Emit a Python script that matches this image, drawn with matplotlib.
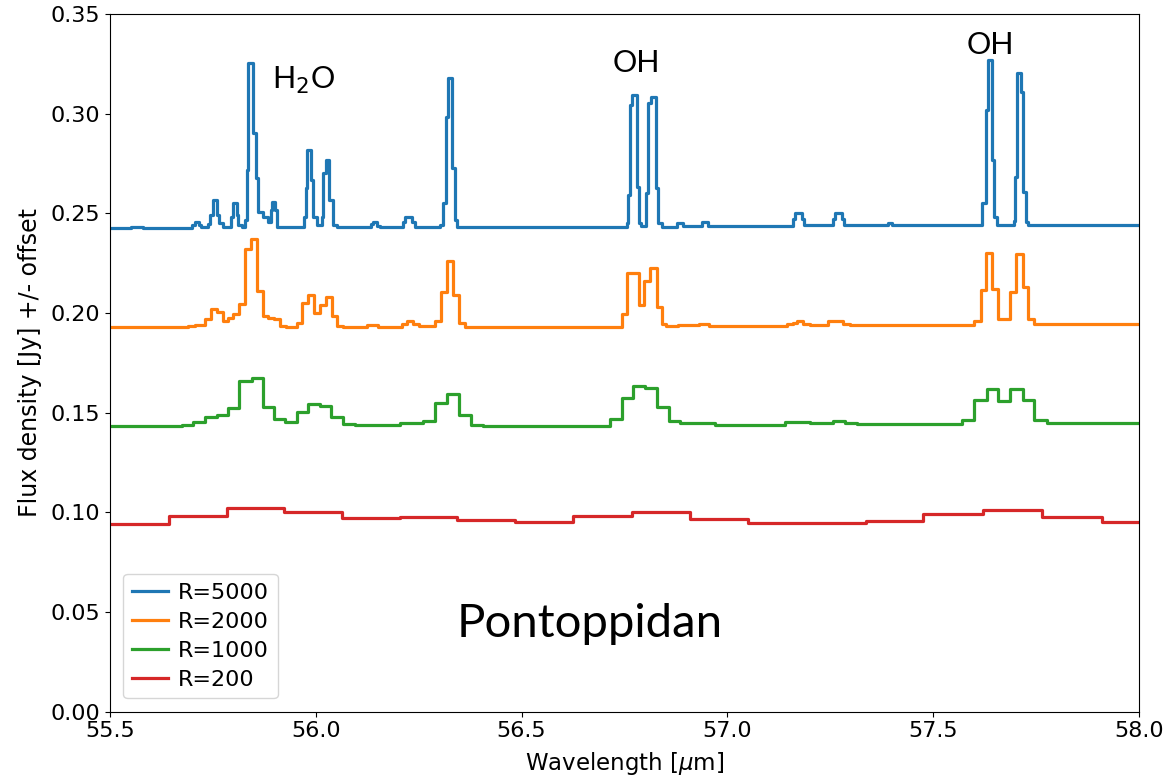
import matplotlib
matplotlib.use("Agg")
import matplotlib.pyplot as plt
import numpy as np

# step spectra at different resolving powers (bin edges + level in each bin)
blue_edges = [55.5, 55.550, 55.580, 55.700, 55.706, 55.716, 55.722, 55.739, 55.743, 55.750,
              55.761, 55.766, 55.775, 55.794, 55.798, 55.808, 55.812, 55.820, 55.828, 55.832,
              55.835, 55.847, 55.855, 55.860, 55.872, 55.885, 55.890, 55.893, 55.900, 55.905,
              55.971, 55.975, 55.979, 55.988, 55.994, 56.002, 56.014, 56.018, 56.024, 56.033,
              56.043, 56.051, 56.133, 56.138, 56.148, 56.155, 56.212, 56.217, 56.233, 56.240,
              56.302, 56.310, 56.316, 56.322, 56.330, 56.337, 56.344, 56.755, 56.758, 56.763,
              56.769, 56.780, 56.784, 56.789, 56.802, 56.808, 56.814, 56.826, 56.831, 56.840,
              56.877, 56.893, 56.938, 56.954, 57.160, 57.164, 57.180, 57.185, 57.257, 57.261,
              57.278, 57.283, 57.391, 57.399, 57.618, 57.628, 57.633, 57.642, 57.648, 57.656,
              57.696, 57.698, 57.703, 57.713, 57.719, 57.725, 57.731, 58.0]
blue_vals = [0.2427, 0.2432, 0.2427, 0.2440, 0.2455, 0.2440, 0.2430, 0.2445, 0.2491, 0.2566,
             0.2491, 0.2450, 0.2430, 0.2480, 0.2550, 0.2491, 0.2440, 0.2432, 0.2466, 0.2717,
             0.3255, 0.2901, 0.2675, 0.2508, 0.2483, 0.2458, 0.2516, 0.2558, 0.2516, 0.2432,
             0.2482, 0.2625, 0.2817, 0.2667, 0.2482, 0.2440, 0.2482, 0.2700, 0.2767, 0.2566,
             0.2440, 0.2430, 0.2445, 0.2454, 0.2437, 0.2430, 0.2455, 0.2482, 0.2455, 0.2432,
             0.2440, 0.2550, 0.2984, 0.3176, 0.2725, 0.2466, 0.2432, 0.2449, 0.2591, 0.3043,
             0.3093, 0.2633, 0.2449, 0.2437, 0.2600, 0.3051, 0.3084, 0.2625, 0.2449, 0.2432,
             0.2452, 0.2434, 0.2457, 0.2436, 0.2470, 0.2500, 0.2470, 0.2440, 0.2470, 0.2500,
             0.2470, 0.2441, 0.2450, 0.2441, 0.2550, 0.3018, 0.3268, 0.2767, 0.2482, 0.2441,
             0.2461, 0.2683, 0.3202, 0.3109, 0.2608, 0.2458, 0.2441]

orange_edges = [55.5, 55.690, 55.707, 55.731, 55.745, 55.761, 55.774, 55.786, 55.800, 55.814,
                55.828, 55.843, 55.856, 55.871, 55.885, 55.898, 55.912, 55.927, 55.954, 55.967,
                55.982, 55.996, 56.010, 56.024, 56.039, 56.052, 56.067, 56.124, 56.150, 56.209,
                56.221, 56.237, 56.251, 56.290, 56.305, 56.318, 56.334, 56.349, 56.362, 56.743,
                56.755, 56.786, 56.798, 56.812, 56.828, 56.840, 56.852, 56.880, 56.930, 56.955,
                57.144, 57.160, 57.168, 57.184, 57.201, 57.245, 57.282, 57.297, 57.600, 57.615,
                57.628, 57.642, 57.658, 57.687, 57.700, 57.717, 57.731, 57.746, 58.0]
orange_vals = [0.1928, 0.1933, 0.1939, 0.1968, 0.2018, 0.2006, 0.1959, 0.1973, 0.1993, 0.2043,
               0.2319, 0.2369, 0.2110, 0.1986, 0.1976, 0.1971, 0.1934, 0.1928, 0.1951, 0.2051,
               0.2090, 0.2001, 0.2040, 0.2078, 0.1985, 0.1936, 0.1928, 0.1941, 0.1930, 0.1945,
               0.1962, 0.1945, 0.1932, 0.1959, 0.2105, 0.2262, 0.2090, 0.1951, 0.1930, 0.1995,
               0.2199, 0.2040, 0.2160, 0.2227, 0.2028, 0.1944, 0.1932, 0.1938, 0.1945, 0.1932,
               0.1945, 0.1951, 0.1962, 0.1944, 0.1940, 0.1962, 0.1944, 0.1938, 0.1962, 0.2115,
               0.2299, 0.2118, 0.1968, 0.2106, 0.2295, 0.2128, 0.1968, 0.1944]

green_edges = [55.5, 55.674, 55.702, 55.731, 55.759, 55.786, 55.814, 55.844, 55.871, 55.898,
               55.925, 55.954, 55.982, 56.010, 56.037, 56.067, 56.095, 56.205, 56.261, 56.290,
               56.318, 56.349, 56.376, 56.405, 56.715, 56.743, 56.771, 56.800, 56.828, 56.858,
               56.885, 56.970, 57.140, 57.201, 57.256, 57.286, 57.314, 57.569, 57.600, 57.630,
               57.658, 57.687, 57.717, 57.746, 57.776, 58.0]
green_vals = [0.1432, 0.1436, 0.1451, 0.1480, 0.1488, 0.1521, 0.1660, 0.1675, 0.1530, 0.1466,
              0.1454, 0.1501, 0.1542, 0.1533, 0.1480, 0.1443, 0.1438, 0.1449, 0.1458, 0.1550,
              0.1592, 0.1488, 0.1438, 0.1433, 0.1466, 0.1575, 0.1635, 0.1625, 0.1527, 0.1456,
              0.1446, 0.1439, 0.1454, 0.1446, 0.1456, 0.1450, 0.1443, 0.1463, 0.1563, 0.1618,
              0.1558, 0.1618, 0.1563, 0.1463, 0.1446]

red_edges = [55.5, 55.644, 55.784, 55.923, 56.063, 56.205, 56.344, 56.485, 56.626, 56.767,
             56.909, 57.051, 57.194, 57.336, 57.476, 57.622, 57.764, 57.909, 58.0]
red_vals = [0.0940, 0.0981, 0.1020, 0.1000, 0.0970, 0.0975, 0.0963, 0.0951, 0.0984, 0.1000,
            0.0965, 0.0946, 0.0945, 0.0955, 0.0990, 0.1013, 0.0975, 0.0953]

series = [("R=5000", blue_edges, blue_vals, "#1f77b4"),
          ("R=2000", orange_edges, orange_vals, "#ff7f0e"),
          ("R=1000", green_edges, green_vals, "#2ca02c"),
          ("R=200", red_edges, red_vals, "#d62728")]

labels = [("H$_2$O", 55.969, 0.3168), ("OH", 56.780, 0.3253), ("OH", 57.638, 0.3344)]

fig = plt.figure(figsize=(11.75, 7.81), dpi=100)
ax = fig.add_axes([0.0936, 0.0887, 0.8758, 0.8936])

for name, edges, vals, col in series:
    # repeat the last level so the final bin is drawn up to its right edge
    ax.step(edges, list(vals) + [vals[-1]], where='post', color=col, lw=2.3,
            label=name, solid_joinstyle='round')

for txt, x, y in labels:
    ax.text(x, y, txt, fontsize=22, ha='center', va='center', family='Lato')
ax.text(56.666, 0.044, "Pontoppidan", fontsize=34, ha='center', va='center', family='Lato')

ax.set_xlim(55.5, 58.0)
ax.set_ylim(0, 0.35)
ax.set_xticks(np.arange(55.5, 58.01, 0.5))
ax.set_yticks(np.arange(0, 0.351, 0.05))
ax.xaxis.set_major_formatter(matplotlib.ticker.FormatStrFormatter('%.1f'))
ax.yaxis.set_major_formatter(matplotlib.ticker.FormatStrFormatter('%.2f'))
ax.tick_params(labelsize=16)
ax.set_xlabel(r'Wavelength [$\mu$m]', fontsize=16.5, labelpad=6)
ax.set_ylabel('Flux density [Jy] +/- offset', fontsize=17, labelpad=6)
ax.legend(loc='lower left', fontsize=16, handlelength=1.6, handletextpad=0.45,
          labelspacing=0.4, borderaxespad=0.6)

fig.savefig("out.png", dpi=100)
